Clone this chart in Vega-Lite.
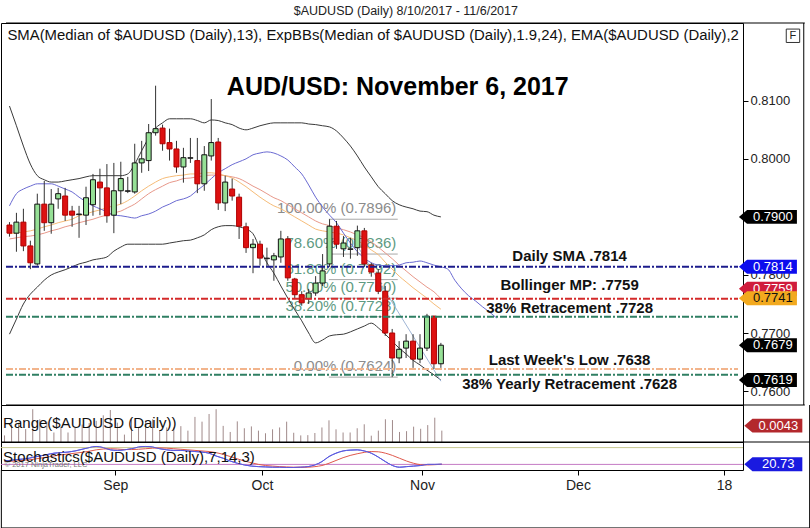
{
"$schema":"https://vega.github.io/schema/vega-lite/v6.json",
"background":"#ffffff",
"padding":{"top":4,"left":0,"right":0,"bottom":0},
"bounds":"flush",
"title":{"text":"$AUDUSD (Daily)  8/10/2017 - 11/6/2017","fontSize":12.5,"fontWeight":"normal","anchor":"middle","frame":"bounds","offset":5,"color":"#222222"},
"config":{"font":"Liberation Sans","view":{"stroke":"#000000","strokeWidth":1},"concat":{"spacing":0}},
"spacing":0,
"datasets":{
"bars":[
{"i":0,"date":"2017-08-10","o":0.7886,"h":0.7891,"l":0.7866,"c":0.7872,"rng":0.0025,"k":32,"d":30},
{"i":1,"date":"2017-08-11","o":0.7872,"h":0.7907,"l":0.7840,"c":0.7891,"rng":0.0067,"k":35,"d":31},
{"i":2,"date":"2017-08-14","o":0.7891,"h":0.7914,"l":0.7841,"c":0.7850,"rng":0.0073,"k":38,"d":33},
{"i":3,"date":"2017-08-15","o":0.7850,"h":0.7859,"l":0.7810,"c":0.7821,"rng":0.0049,"k":40,"d":35},
{"i":4,"date":"2017-08-16","o":0.7819,"h":0.7940,"l":0.7816,"c":0.7922,"rng":0.0124,"k":45,"d":38},
{"i":5,"date":"2017-08-17","o":0.7922,"h":0.7962,"l":0.7876,"c":0.7890,"rng":0.0086,"k":50,"d":42},
{"i":6,"date":"2017-08-18","o":0.7890,"h":0.7948,"l":0.7871,"c":0.7922,"rng":0.0077,"k":55,"d":46},
{"i":7,"date":"2017-08-21","o":0.7931,"h":0.7950,"l":0.7914,"c":0.7940,"rng":0.0036,"k":60,"d":50},
{"i":8,"date":"2017-08-22","o":0.7936,"h":0.7950,"l":0.7893,"c":0.7903,"rng":0.0057,"k":62,"d":54},
{"i":9,"date":"2017-08-23","o":0.7910,"h":0.7919,"l":0.7883,"c":0.7903,"rng":0.0036,"k":64,"d":57},
{"i":10,"date":"2017-08-24","o":0.7905,"h":0.7919,"l":0.7864,"c":0.7904,"rng":0.0055,"k":68,"d":60},
{"i":11,"date":"2017-08-25","o":0.7903,"h":0.7952,"l":0.7886,"c":0.7933,"rng":0.0066,"k":74,"d":63},
{"i":12,"date":"2017-08-28","o":0.7921,"h":0.7974,"l":0.7902,"c":0.7964,"rng":0.0072,"k":80,"d":67},
{"i":13,"date":"2017-08-29","o":0.7960,"h":0.7983,"l":0.7903,"c":0.7950,"rng":0.0080,"k":84,"d":72},
{"i":14,"date":"2017-08-30","o":0.7950,"h":0.7991,"l":0.7890,"c":0.7902,"rng":0.0101,"k":80,"d":75},
{"i":15,"date":"2017-08-31","o":0.7903,"h":0.7993,"l":0.7872,"c":0.7945,"rng":0.0121,"k":72,"d":76},
{"i":16,"date":"2017-09-01","o":0.7945,"h":0.7995,"l":0.7922,"c":0.7966,"rng":0.0073,"k":70,"d":75},
{"i":17,"date":"2017-09-04","o":0.7945,"h":0.7969,"l":0.7941,"c":0.7944,"rng":0.0028,"k":72,"d":73},
{"i":18,"date":"2017-09-05","o":0.7943,"h":0.8026,"l":0.7940,"c":0.7993,"rng":0.0086,"k":76,"d":73},
{"i":19,"date":"2017-09-06","o":0.7993,"h":0.8031,"l":0.7976,"c":0.8000,"rng":0.0055,"k":82,"d":74},
{"i":20,"date":"2017-09-07","o":0.7997,"h":0.8060,"l":0.7979,"c":0.8045,"rng":0.0081,"k":84,"d":76},
{"i":21,"date":"2017-09-08","o":0.8045,"h":0.8126,"l":0.8040,"c":0.8052,"rng":0.0086,"k":82,"d":78},
{"i":22,"date":"2017-09-11","o":0.8053,"h":0.8059,"l":0.8014,"c":0.8026,"rng":0.0045,"k":76,"d":79},
{"i":23,"date":"2017-09-12","o":0.8028,"h":0.8052,"l":0.7997,"c":0.8017,"rng":0.0055,"k":72,"d":78},
{"i":24,"date":"2017-09-13","o":0.8017,"h":0.8031,"l":0.7976,"c":0.7986,"rng":0.0055,"k":70,"d":76},
{"i":25,"date":"2017-09-14","o":0.7986,"h":0.8019,"l":0.7959,"c":0.8002,"rng":0.0060,"k":70,"d":74},
{"i":26,"date":"2017-09-15","o":0.8002,"h":0.8036,"l":0.7993,"c":0.8001,"rng":0.0043,"k":68,"d":72},
{"i":27,"date":"2017-09-18","o":0.7997,"h":0.8036,"l":0.7941,"c":0.7957,"rng":0.0095,"k":66,"d":70},
{"i":28,"date":"2017-09-19","o":0.7957,"h":0.8022,"l":0.7945,"c":0.8007,"rng":0.0077,"k":64,"d":68},
{"i":29,"date":"2017-09-20","o":0.8005,"h":0.8103,"l":0.7997,"c":0.8028,"rng":0.0106,"k":60,"d":66},
{"i":30,"date":"2017-09-21","o":0.8029,"h":0.8036,"l":0.7912,"c":0.7924,"rng":0.0124,"k":50,"d":62},
{"i":31,"date":"2017-09-22","o":0.7924,"h":0.7971,"l":0.7910,"c":0.7960,"rng":0.0061,"k":42,"d":56},
{"i":32,"date":"2017-09-25","o":0.7948,"h":0.7966,"l":0.7928,"c":0.7936,"rng":0.0038,"k":32,"d":48},
{"i":33,"date":"2017-09-26","o":0.7934,"h":0.7940,"l":0.7862,"c":0.7884,"rng":0.0078,"k":24,"d":40},
{"i":34,"date":"2017-09-27","o":0.7883,"h":0.7890,"l":0.7838,"c":0.7847,"rng":0.0052,"k":18,"d":32},
{"i":35,"date":"2017-09-28","o":0.7847,"h":0.7862,"l":0.7803,"c":0.7853,"rng":0.0059,"k":14,"d":26},
{"i":36,"date":"2017-09-29","o":0.7853,"h":0.7859,"l":0.7816,"c":0.7829,"rng":0.0043,"k":12,"d":20},
{"i":37,"date":"2017-10-02","o":0.7829,"h":0.7847,"l":0.7814,"c":0.7828,"rng":0.0033,"k":11,"d":16},
{"i":38,"date":"2017-10-03","o":0.7826,"h":0.7838,"l":0.7790,"c":0.7833,"rng":0.0048,"k":10,"d":14},
{"i":39,"date":"2017-10-04","o":0.7831,"h":0.7876,"l":0.7821,"c":0.7862,"rng":0.0055,"k":10,"d":12},
{"i":40,"date":"2017-10-05","o":0.7862,"h":0.7867,"l":0.7790,"c":0.7795,"rng":0.0077,"k":9,"d":11},
{"i":41,"date":"2017-10-06","o":0.7793,"h":0.7795,"l":0.7760,"c":0.7766,"rng":0.0035,"k":9,"d":10},
{"i":42,"date":"2017-10-09","o":0.7766,"h":0.7772,"l":0.7747,"c":0.7752,"rng":0.0025,"k":10,"d":10},
{"i":43,"date":"2017-10-10","o":0.7759,"h":0.7776,"l":0.7750,"c":0.7769,"rng":0.0026,"k":12,"d":10},
{"i":44,"date":"2017-10-11","o":0.7769,"h":0.7798,"l":0.7764,"c":0.7786,"rng":0.0034,"k":18,"d":12},
{"i":45,"date":"2017-10-12","o":0.7786,"h":0.7836,"l":0.7781,"c":0.7807,"rng":0.0055,"k":30,"d":16},
{"i":46,"date":"2017-10-13","o":0.7819,"h":0.7896,"l":0.7814,"c":0.7884,"rng":0.0082,"k":48,"d":24},
{"i":47,"date":"2017-10-16","o":0.7884,"h":0.7893,"l":0.7845,"c":0.7853,"rng":0.0048,"k":60,"d":34},
{"i":48,"date":"2017-10-17","o":0.7845,"h":0.7867,"l":0.7831,"c":0.7855,"rng":0.0036,"k":68,"d":44},
{"i":49,"date":"2017-10-18","o":0.7845,"h":0.7864,"l":0.7828,"c":0.7844,"rng":0.0036,"k":71,"d":52},
{"i":50,"date":"2017-10-19","o":0.7847,"h":0.7885,"l":0.7833,"c":0.7876,"rng":0.0052,"k":72,"d":58},
{"i":51,"date":"2017-10-20","o":0.7876,"h":0.7881,"l":0.7814,"c":0.7819,"rng":0.0067,"k":68,"d":63},
{"i":52,"date":"2017-10-23","o":0.7817,"h":0.7821,"l":0.7797,"c":0.7805,"rng":0.0024,"k":60,"d":66},
{"i":53,"date":"2017-10-24","o":0.7803,"h":0.7810,"l":0.7767,"c":0.7772,"rng":0.0043,"k":46,"d":65},
{"i":54,"date":"2017-10-25","o":0.7772,"h":0.7781,"l":0.7695,"c":0.7700,"rng":0.0086,"k":30,"d":60},
{"i":55,"date":"2017-10-26","o":0.7700,"h":0.7707,"l":0.7624,"c":0.7657,"rng":0.0083,"k":16,"d":52},
{"i":56,"date":"2017-10-27","o":0.7657,"h":0.7686,"l":0.7648,"c":0.7672,"rng":0.0038,"k":10,"d":42},
{"i":57,"date":"2017-10-30","o":0.7674,"h":0.7698,"l":0.7657,"c":0.7686,"rng":0.0041,"k":12,"d":32},
{"i":58,"date":"2017-10-31","o":0.7686,"h":0.7698,"l":0.7640,"c":0.7655,"rng":0.0058,"k":14,"d":24},
{"i":59,"date":"2017-11-01","o":0.7655,"h":0.7698,"l":0.7648,"c":0.7674,"rng":0.0050,"k":16,"d":19},
{"i":60,"date":"2017-11-02","o":0.7674,"h":0.7733,"l":0.7669,"c":0.7729,"rng":0.0064,"k":20,"d":18},
{"i":61,"date":"2017-11-03","o":0.7729,"h":0.7730,"l":0.7638,"c":0.7647,"rng":0.0092,"k":20,"d":19},
{"i":62,"date":"2017-11-06","o":0.7647,"h":0.7683,"l":0.7640,"c":0.7679,"rng":0.0043,"k":20.73,"d":20.5}
],
"bands":[
{"i":0,"up":0.8091,"mid":0.7919,"lo":0.7698,"ema":0.7871,"sma":0.7862},
{"i":1,"up":0.8057,"mid":0.7940,"lo":0.7724,"ema":0.7872,"sma":0.7864},
{"i":2,"up":0.8022,"mid":0.7948,"lo":0.7750,"ema":0.7874,"sma":0.7866},
{"i":3,"up":0.7991,"mid":0.7953,"lo":0.7767,"ema":0.7876,"sma":0.7867},
{"i":4,"up":0.7971,"mid":0.7957,"lo":0.7779,"ema":0.7879,"sma":0.7869},
{"i":5,"up":0.7964,"mid":0.7957,"lo":0.7791,"ema":0.7883,"sma":0.7872},
{"i":6,"up":0.7960,"mid":0.7957,"lo":0.7800,"ema":0.7886,"sma":0.7876},
{"i":7,"up":0.7960,"mid":0.7953,"lo":0.7805,"ema":0.7890,"sma":0.7879},
{"i":8,"up":0.7962,"mid":0.7948,"lo":0.7809,"ema":0.7893,"sma":0.7883},
{"i":9,"up":0.7964,"mid":0.7943,"lo":0.7814,"ema":0.7896,"sma":0.7886},
{"i":10,"up":0.7966,"mid":0.7934,"lo":0.7819,"ema":0.7902,"sma":0.7890},
{"i":11,"up":0.7969,"mid":0.7926,"lo":0.7822,"ema":0.7905,"sma":0.7893},
{"i":12,"up":0.7971,"mid":0.7919,"lo":0.7826,"ema":0.7909,"sma":0.7896},
{"i":13,"up":0.7971,"mid":0.7914,"lo":0.7828,"ema":0.7912,"sma":0.7900},
{"i":14,"up":0.7971,"mid":0.7909,"lo":0.7831,"ema":0.7916,"sma":0.7903},
{"i":15,"up":0.7971,"mid":0.7903,"lo":0.7841,"ema":0.7919,"sma":0.7907},
{"i":16,"up":0.7971,"mid":0.7902,"lo":0.7848,"ema":0.7922,"sma":0.7910},
{"i":17,"up":0.7974,"mid":0.7900,"lo":0.7853,"ema":0.7928,"sma":0.7916},
{"i":18,"up":0.7991,"mid":0.7898,"lo":0.7853,"ema":0.7936,"sma":0.7922},
{"i":19,"up":0.8014,"mid":0.7902,"lo":0.7853,"ema":0.7945,"sma":0.7931},
{"i":20,"up":0.8036,"mid":0.7905,"lo":0.7853,"ema":0.7953,"sma":0.7940},
{"i":21,"up":0.8053,"mid":0.7910,"lo":0.7853,"ema":0.7960,"sma":0.7947},
{"i":22,"up":0.8062,"mid":0.7917,"lo":0.7853,"ema":0.7966,"sma":0.7953},
{"i":23,"up":0.8069,"mid":0.7922,"lo":0.7855,"ema":0.7969,"sma":0.7959},
{"i":24,"up":0.8069,"mid":0.7928,"lo":0.7857,"ema":0.7971,"sma":0.7962},
{"i":25,"up":0.8069,"mid":0.7931,"lo":0.7859,"ema":0.7972,"sma":0.7966},
{"i":26,"up":0.8069,"mid":0.7936,"lo":0.7860,"ema":0.7974,"sma":0.7967},
{"i":27,"up":0.8066,"mid":0.7946,"lo":0.7864,"ema":0.7974,"sma":0.7969},
{"i":28,"up":0.8062,"mid":0.7955,"lo":0.7869,"ema":0.7976,"sma":0.7971},
{"i":29,"up":0.8067,"mid":0.7966,"lo":0.7878,"ema":0.7976,"sma":0.7972},
{"i":30,"up":0.8066,"mid":0.7976,"lo":0.7883,"ema":0.7974,"sma":0.7972},
{"i":31,"up":0.8062,"mid":0.7983,"lo":0.7885,"ema":0.7971,"sma":0.7971},
{"i":32,"up":0.8059,"mid":0.7990,"lo":0.7885,"ema":0.7967,"sma":0.7969},
{"i":33,"up":0.8053,"mid":0.7995,"lo":0.7883,"ema":0.7960,"sma":0.7966},
{"i":34,"up":0.8050,"mid":0.8000,"lo":0.7879,"ema":0.7952,"sma":0.7960},
{"i":35,"up":0.8053,"mid":0.8007,"lo":0.7871,"ema":0.7943,"sma":0.7953},
{"i":36,"up":0.8057,"mid":0.8010,"lo":0.7845,"ema":0.7934,"sma":0.7947},
{"i":37,"up":0.8060,"mid":0.8012,"lo":0.7821,"ema":0.7926,"sma":0.7940},
{"i":38,"up":0.8062,"mid":0.8010,"lo":0.7803,"ema":0.7919,"sma":0.7933},
{"i":39,"up":0.8062,"mid":0.8005,"lo":0.7781,"ema":0.7914,"sma":0.7928},
{"i":40,"up":0.8062,"mid":0.7998,"lo":0.7760,"ema":0.7907,"sma":0.7921},
{"i":41,"up":0.8062,"mid":0.7986,"lo":0.7740,"ema":0.7900,"sma":0.7914},
{"i":42,"up":0.8062,"mid":0.7974,"lo":0.7721,"ema":0.7893,"sma":0.7907},
{"i":43,"up":0.8060,"mid":0.7955,"lo":0.7700,"ema":0.7886,"sma":0.7900},
{"i":44,"up":0.8059,"mid":0.7934,"lo":0.7683,"ema":0.7879,"sma":0.7893},
{"i":45,"up":0.8057,"mid":0.7917,"lo":0.7688,"ema":0.7876,"sma":0.7888},
{"i":46,"up":0.8055,"mid":0.7903,"lo":0.7695,"ema":0.7874,"sma":0.7885},
{"i":47,"up":0.8048,"mid":0.7890,"lo":0.7697,"ema":0.7872,"sma":0.7881},
{"i":48,"up":0.8036,"mid":0.7872,"lo":0.7698,"ema":0.7869,"sma":0.7878},
{"i":49,"up":0.8022,"mid":0.7855,"lo":0.7702,"ema":0.7864,"sma":0.7874},
{"i":50,"up":0.8005,"mid":0.7840,"lo":0.7707,"ema":0.7859,"sma":0.7869},
{"i":51,"up":0.7986,"mid":0.7829,"lo":0.7712,"ema":0.7852,"sma":0.7864},
{"i":52,"up":0.7969,"mid":0.7821,"lo":0.7717,"ema":0.7843,"sma":0.7857},
{"i":53,"up":0.7952,"mid":0.7817,"lo":0.7709,"ema":0.7835,"sma":0.7848},
{"i":54,"up":0.7940,"mid":0.7816,"lo":0.7698,"ema":0.7822,"sma":0.7838},
{"i":55,"up":0.7928,"mid":0.7816,"lo":0.7686,"ema":0.7810,"sma":0.7828},
{"i":56,"up":0.7921,"mid":0.7817,"lo":0.7674,"ema":0.7798,"sma":0.7817},
{"i":57,"up":0.7917,"mid":0.7821,"lo":0.7664,"ema":0.7788,"sma":0.7807},
{"i":58,"up":0.7914,"mid":0.7822,"lo":0.7653,"ema":0.7778,"sma":0.7797},
{"i":59,"up":0.7910,"mid":0.7824,"lo":0.7645,"ema":0.7769,"sma":0.7788},
{"i":60,"up":0.7909,"mid":0.7821,"lo":0.7636,"ema":0.7760,"sma":0.7779},
{"i":61,"up":0.7903,"mid":0.7817,"lo":0.7628,"ema":0.7750,"sma":0.7771},
{"i":62,"up":0.7900,"mid":0.7814,"lo":0.7619,"ema":0.7741,"sma":0.7759},
{"i":63,"mid":0.7810},
{"i":64,"mid":0.7791},
{"i":65,"mid":0.7776},
{"i":66,"mid":0.7764},
{"i":67,"mid":0.7755},
{"i":68,"mid":0.7745},
{"i":69,"mid":0.7736},
{"i":70,"mid":0.7726}
],
"trend":[{"i":50,"v":0.7850},{"i":62,"v":0.7617}],
"levels":[
{"label":"Daily SMA .7814","v":0.7814,"lv":0.7833,"kind":"sma"},
{"label":"Bollinger MP: .7759","v":0.7759,"lv":0.7783,"kind":"bmp"},
{"label":"38% Retracement .7728","v":0.7728,"lv":0.7743,"kind":"ret"},
{"label":"Last Week's Low .7638","v":0.7638,"lv":0.7653,"kind":"low"},
{"label":"38% Yearly Retracement .7628","v":0.7628,"lv":0.7612,"kind":"yret"}
],
"fib":[
{"pct":100,"v":0.7896,"label":"100.00% (0.7896)"},
{"pct":78.6,"v":0.7836,"label":"78.60% (0.7836)"},
{"pct":61.8,"v":0.7792,"label":"61.80% (0.7792)"},
{"pct":50,"v":0.7760,"label":"50.00% (0.7760)"},
{"pct":38.2,"v":0.7728,"label":"38.20% (0.7728)"},
{"pct":0,"v":0.7624,"label":"0.00% (0.7624)"}
],
"pbadges":[
{"label":"0.7900","v":0.7900},
{"label":"0.7814","v":0.7814},
{"label":"0.7759","v":0.7759},
{"label":"0.7741","v":0.7741},
{"label":"0.7679","v":0.7679},
{"label":"0.7619","v":0.7619}
]
},
"vconcat":[
{
"width":742,"height":382,
"layer":[
{"data":{"name":"fib"},"mark":{"type":"rule","color":"#a8a8a8","strokeWidth":1},
 "encoding":{"x":{"datum":45.9,"type":"quantitative","scale":{"domain":[-0.5,104.7],"nice":false,"zero":false},"axis":null},"x2":{"datum":55.8},
 "y":{"field":"v","type":"quantitative","scale":{"domain":[0.7576,0.8234],"nice":false,"zero":false},
  "axis":{"orient":"right","values":[0.76,0.77,0.78,0.79,0.8,0.81],"format":".4f","labelFontSize":13,"labelColor":"#222222","tickColor":"#000000","tickSize":5,"domain":false,"grid":false,"title":null,"labelPadding":2,"zindex":0}}}},
{"data":{"name":"fib"},"mark":{"type":"text","align":"right","baseline":"middle","dy":-11,"fontSize":15},
 "encoding":{"x":{"datum":55.6,"type":"quantitative","scale":{"domain":[-0.5,104.7],"nice":false,"zero":false},"axis":null},
 "y":{"field":"v","type":"quantitative","scale":{"domain":[0.7576,0.8234],"nice":false,"zero":false}},
 "text":{"field":"label"},
 "color":{"condition":{"test":"datum.pct==100||datum.pct==0","value":"#8c8c8c"},"value":"#5e9a82"}}},
{"data":{"name":"bands"},"mark":{"type":"line","color":"#3a3a3a","strokeWidth":1,"interpolate":"monotone"},
 "encoding":{"x":{"field":"i","type":"quantitative","scale":{"domain":[-0.5,104.7],"nice":false,"zero":false},"axis":null},
 "y":{"field":"up","type":"quantitative","scale":{"domain":[0.7576,0.8234],"nice":false,"zero":false}}}},
{"data":{"name":"bands"},"mark":{"type":"line","color":"#3a3a3a","strokeWidth":1,"interpolate":"monotone"},
 "encoding":{"x":{"field":"i","type":"quantitative","scale":{"domain":[-0.5,104.7],"nice":false,"zero":false},"axis":null},
 "y":{"field":"lo","type":"quantitative","scale":{"domain":[0.7576,0.8234],"nice":false,"zero":false}}}},
{"data":{"name":"bands"},"mark":{"type":"line","color":"#e8988a","strokeWidth":1,"interpolate":"monotone"},
 "encoding":{"x":{"field":"i","type":"quantitative","scale":{"domain":[-0.5,104.7],"nice":false,"zero":false},"axis":null},
 "y":{"field":"sma","type":"quantitative","scale":{"domain":[0.7576,0.8234],"nice":false,"zero":false}}}},
{"data":{"name":"bands"},"mark":{"type":"line","color":"#f6bc78","strokeWidth":1,"interpolate":"monotone"},
 "encoding":{"x":{"field":"i","type":"quantitative","scale":{"domain":[-0.5,104.7],"nice":false,"zero":false},"axis":null},
 "y":{"field":"ema","type":"quantitative","scale":{"domain":[0.7576,0.8234],"nice":false,"zero":false}}}},
{"data":{"name":"bands"},"mark":{"type":"line","color":"#6a6ad2","strokeWidth":1,"interpolate":"monotone"},
 "encoding":{"x":{"field":"i","type":"quantitative","scale":{"domain":[-0.5,104.7],"nice":false,"zero":false},"axis":null},
 "y":{"field":"mid","type":"quantitative","scale":{"domain":[0.7576,0.8234],"nice":false,"zero":false}}}},
{"data":{"name":"trend"},"mark":{"type":"line","color":"#9fb5d5","strokeWidth":1},
 "encoding":{"x":{"field":"i","type":"quantitative","scale":{"domain":[-0.5,104.7],"nice":false,"zero":false},"axis":null},
 "y":{"field":"v","type":"quantitative","scale":{"domain":[0.7576,0.8234],"nice":false,"zero":false}}}},
{"data":{"name":"bars"},"mark":{"type":"rule","color":"#333333","strokeWidth":1},
 "encoding":{"x":{"field":"i","type":"quantitative","scale":{"domain":[-0.5,104.7],"nice":false,"zero":false},"axis":null},
 "y":{"field":"l","type":"quantitative","scale":{"domain":[0.7576,0.8234],"nice":false,"zero":false}},"y2":{"field":"h"}}},
{"data":{"name":"bars"},"mark":{"type":"bar","size":5,"strokeWidth":1,"orient":"vertical"},
 "encoding":{"x":{"field":"i","type":"quantitative","scale":{"domain":[-0.5,104.7],"nice":false,"zero":false},"axis":null},
 "y":{"field":"o","type":"quantitative","scale":{"domain":[0.7576,0.8234],"nice":false,"zero":false}},"y2":{"field":"c"},
 "color":{"condition":[{"test":"abs(datum.c-datum.o)<0.00015","value":"#222222"},{"test":"datum.c<datum.o","value":"#dd1111"}],"value":"#96e096"},
 "stroke":{"condition":[{"test":"abs(datum.c-datum.o)<0.00015","value":"#222222"},{"test":"datum.c<datum.o","value":"#b00000"}],"value":"#111111"}}},
{"data":{"name":"levels"},"mark":{"type":"rule","strokeWidth":2,"strokeDash":[7,2,2,2]},
 "encoding":{"x":{"datum":-0.5,"type":"quantitative","scale":{"domain":[-0.5,104.7],"nice":false,"zero":false},"axis":null},"x2":{"datum":104.7},
 "y":{"field":"v","type":"quantitative","scale":{"domain":[0.7576,0.8234],"nice":false,"zero":false}},
 "color":{"field":"kind","type":"nominal","scale":{"domain":["sma","bmp","ret","low","yret"],"range":["#1c1c8c","#d42a2a","#2f7f63","#f2b48c","#2f7f63"]},"legend":null}}},
{"data":{"name":"levels"},"mark":{"type":"text","fontSize":15,"fontWeight":"bold","align":"center","baseline":"middle","color":"#111111"},
 "encoding":{"x":{"datum":80.5,"type":"quantitative","scale":{"domain":[-0.5,104.7],"nice":false,"zero":false},"axis":null},
 "y":{"field":"lv","type":"quantitative","scale":{"domain":[0.7576,0.8234],"nice":false,"zero":false}},"text":{"field":"label"}}},
{"data":{"values":[{}]},"mark":{"type":"text","text":"SMA(Median of $AUDUSD (Daily),13), ExpBBs(Median of $AUDUSD (Daily),1.9,24), EMA($AUDUSD (Daily),2","align":"left","baseline":"middle","fontSize":14.9,"color":"#111111","clip":true},
 "encoding":{"x":{"datum":-0.3,"type":"quantitative","scale":{"domain":[-0.5,104.7],"nice":false,"zero":false},"axis":null},
 "y":{"datum":0.8212,"type":"quantitative","scale":{"domain":[0.7576,0.8234],"nice":false,"zero":false}}}},
{"data":{"values":[{}]},"mark":{"type":"text","text":"AUD/USD: November 6, 2017","align":"center","baseline":"middle","fontSize":25,"fontWeight":"bold","color":"#000000"},
 "encoding":{"x":{"datum":55.8,"type":"quantitative","scale":{"domain":[-0.5,104.7],"nice":false,"zero":false},"axis":null},
 "y":{"datum":0.8124,"type":"quantitative","scale":{"domain":[0.7576,0.8234],"nice":false,"zero":false}}}},
{"data":{"values":[{"v":0.8234},{"v":0.7576}]},"mark":{"type":"rule","color":"#000000","strokeWidth":1},
 "encoding":{"x":{"datum":-0.5,"type":"quantitative","scale":{"domain":[-0.5,104.7],"nice":false,"zero":false},"axis":null},"x2":{"datum":114.3},
 "y":{"field":"v","type":"quantitative","scale":{"domain":[0.7576,0.8234],"nice":false,"zero":false}}}},
{"data":{"values":[{}]},"mark":{"type":"rule","color":"#000000","strokeWidth":1},
 "encoding":{"x":{"datum":114.15,"type":"quantitative","scale":{"domain":[-0.5,104.7],"nice":false,"zero":false},"axis":null},
 "y":{"datum":0.7576,"type":"quantitative","scale":{"domain":[0.7576,0.8234],"nice":false,"zero":false}},"y2":{"datum":0.8234}}},
{"data":{"values":[{}]},"mark":{"type":"point","shape":"square","size":180,"filled":false,"color":"#333333","strokeWidth":1,"opacity":1},
 "encoding":{"x":{"datum":112.6,"type":"quantitative","scale":{"domain":[-0.5,104.7],"nice":false,"zero":false},"axis":null},
 "y":{"datum":0.8212,"type":"quantitative","scale":{"domain":[0.7576,0.8234],"nice":false,"zero":false}}}},
{"data":{"values":[{}]},"mark":{"type":"text","text":"F","align":"center","baseline":"middle","fontSize":11,"color":"#222222"},
 "encoding":{"x":{"datum":112.6,"type":"quantitative","scale":{"domain":[-0.5,104.7],"nice":false,"zero":false},"axis":null},
 "y":{"datum":0.8212,"type":"quantitative","scale":{"domain":[0.7576,0.8234],"nice":false,"zero":false}}}},
{"data":{"name":"pbadges"},"transform":[{"filter":"datum.label!='0.7759' && datum.label!='0.7741'"}],
 "mark":{"type":"point","shape":"M-1,0L-0.72,-0.24L1,-0.24L1,0.24L-0.72,0.24Z","size":3364,"filled":true,"opacity":1,"strokeWidth":0},
 "encoding":{"x":{"datum":109,"type":"quantitative","scale":{"domain":[-0.5,104.7],"nice":false,"zero":false},"axis":null},
 "y":{"field":"v","type":"quantitative","scale":{"domain":[0.7576,0.8234],"nice":false,"zero":false}},
 "color":{"condition":{"test":"datum.label=='0.7814'","value":"#0c0cee"},"value":"#000000"}}},
{"data":{"name":"pbadges"},"transform":[{"filter":"datum.label!='0.7759' && datum.label!='0.7741'"}],
 "mark":{"type":"text","fontSize":13,"color":"#ffffff","align":"center","baseline":"middle"},
 "encoding":{"x":{"datum":109.7,"type":"quantitative","scale":{"domain":[-0.5,104.7],"nice":false,"zero":false},"axis":null},
 "y":{"field":"v","type":"quantitative","scale":{"domain":[0.7576,0.8234],"nice":false,"zero":false}},"text":{"field":"label"}}},
{"data":{"name":"pbadges"},"transform":[{"filter":"datum.label=='0.7759'"}],
 "mark":{"type":"point","shape":"M-1,-0.345L-0.72,-0.585L1,-0.585L1,-0.105L-0.72,-0.105Z","size":3364,"filled":true,"opacity":1,"strokeWidth":0,"color":"#d01c3c"},
 "encoding":{"x":{"datum":109,"type":"quantitative","scale":{"domain":[-0.5,104.7],"nice":false,"zero":false},"axis":null},
 "y":{"field":"v","type":"quantitative","scale":{"domain":[0.7576,0.8234],"nice":false,"zero":false}}}},
{"data":{"name":"pbadges"},"transform":[{"filter":"datum.label=='0.7759'"}],
 "mark":{"type":"text","fontSize":13,"color":"#ffffff","align":"center","baseline":"middle","dy":-10},
 "encoding":{"x":{"datum":109.7,"type":"quantitative","scale":{"domain":[-0.5,104.7],"nice":false,"zero":false},"axis":null},
 "y":{"field":"v","type":"quantitative","scale":{"domain":[0.7576,0.8234],"nice":false,"zero":false}},"text":{"field":"label"}}},
{"data":{"name":"pbadges"},"transform":[{"filter":"datum.label=='0.7741'"}],
 "mark":{"type":"point","shape":"M-1,-0.379L-0.72,-0.619L1,-0.619L1,-0.139L-0.72,-0.139Z","size":3364,"filled":true,"opacity":1,"strokeWidth":0,"color":"#f2a91e"},
 "encoding":{"x":{"datum":109,"type":"quantitative","scale":{"domain":[-0.5,104.7],"nice":false,"zero":false},"axis":null},
 "y":{"field":"v","type":"quantitative","scale":{"domain":[0.7576,0.8234],"nice":false,"zero":false}}}},
{"data":{"name":"pbadges"},"transform":[{"filter":"datum.label=='0.7741'"}],
 "mark":{"type":"text","fontSize":13,"color":"#111111","align":"center","baseline":"middle","dy":-11},
 "encoding":{"x":{"datum":109.7,"type":"quantitative","scale":{"domain":[-0.5,104.7],"nice":false,"zero":false},"axis":null},
 "y":{"field":"v","type":"quantitative","scale":{"domain":[0.7576,0.8234],"nice":false,"zero":false}},"text":{"field":"label"}}}
]
},
{
"width":742,"height":37,
"layer":[
{"data":{"name":"bars"},"mark":{"type":"rule","color":"#a08a8a","strokeWidth":1},
 "encoding":{"x":{"field":"i","type":"quantitative","scale":{"domain":[-0.5,104.7],"nice":false,"zero":false},"axis":null},
 "y":{"field":"rng","type":"quantitative","scale":{"domain":[0,0.014],"nice":false,"zero":false},"axis":null},"y2":{"datum":0}}},
{"data":{"values":[{}]},"mark":{"type":"text","text":"Range($AUDUSD (Daily))","align":"left","baseline":"middle","fontSize":15,"color":"#111111"},
 "encoding":{"x":{"datum":-0.2,"type":"quantitative","scale":{"domain":[-0.5,104.7],"nice":false,"zero":false},"axis":null},
 "y":{"datum":0.0072,"type":"quantitative","scale":{"domain":[0,0.014],"nice":false,"zero":false},"axis":null}}},
{"data":{"values":[{}]},"mark":{"type":"rule","color":"#000000","strokeWidth":1},
 "encoding":{"x":{"datum":-0.5,"type":"quantitative","scale":{"domain":[-0.5,104.7],"nice":false,"zero":false},"axis":null},"x2":{"datum":114.3},
 "y":{"datum":0,"type":"quantitative","scale":{"domain":[0,0.014],"nice":false,"zero":false},"axis":null}}},
{"data":{"values":[{}]},"mark":{"type":"rule","color":"#000000","strokeWidth":1},
 "encoding":{"x":{"datum":114.15,"type":"quantitative","scale":{"domain":[-0.5,104.7],"nice":false,"zero":false},"axis":null},
 "y":{"datum":0,"type":"quantitative","scale":{"domain":[0,0.014],"nice":false,"zero":false},"axis":null},"y2":{"datum":0.014}}},
{"data":{"values":[{"label":"0.0043","v":0.0043}]},
 "mark":{"type":"point","shape":"M-1,-0.172L-0.72,-0.412L1,-0.412L1,0.068L-0.72,0.068Z","size":3364,"filled":true,"opacity":1,"strokeWidth":0,"color":"#b3282d"},
 "encoding":{"x":{"datum":109,"type":"quantitative","scale":{"domain":[-0.5,104.7],"nice":false,"zero":false},"axis":null},
 "y":{"field":"v","type":"quantitative","scale":{"domain":[0,0.014],"nice":false,"zero":false},"axis":null}}},
{"data":{"values":[{"label":"0.0043","v":0.0043}]},
 "mark":{"type":"text","fontSize":13,"color":"#ffffff","align":"center","baseline":"middle","dy":-5},
 "encoding":{"x":{"datum":109.7,"type":"quantitative","scale":{"domain":[-0.5,104.7],"nice":false,"zero":false},"axis":null},
 "y":{"field":"v","type":"quantitative","scale":{"domain":[0,0.014],"nice":false,"zero":false},"axis":null},"text":{"field":"label"}}}
]
},
{
"width":742,"height":28,
"layer":[
{"data":{"name":"bars"},"mark":{"type":"line","color":"#5a5ae0","strokeWidth":1,"interpolate":"monotone"},
 "encoding":{"x":{"field":"i","type":"quantitative","scale":{"domain":[-0.5,104.7],"nice":false,"zero":false},
  "axis":{"orient":"bottom","values":[15.7,36.5,59.2,81.3,102],"labelExpr":"datum.value<20?'Sep':datum.value<40?'Oct':datum.value<70?'Nov':datum.value<90?'Dec':'18'","labelFontSize":14,"labelColor":"#222222","tickSize":5,"tickColor":"#000000","domain":false,"grid":false,"title":null,"labelPadding":3}},
 "y":{"field":"k","type":"quantitative","scale":{"domain":[0,100],"nice":false,"zero":false},"axis":null}}},
{"data":{"values":[{"v":80,"kind":"hi"},{"v":20,"kind":"lo"}]},"mark":{"type":"rule","strokeWidth":1},
 "encoding":{"x":{"datum":-0.5,"type":"quantitative","scale":{"domain":[-0.5,104.7],"nice":false,"zero":false}},"x2":{"datum":104.7},
 "y":{"field":"v","type":"quantitative","scale":{"domain":[0,100],"nice":false,"zero":false},"axis":null},
 "color":{"condition":{"test":"datum.kind=='hi'","value":"#c8c890"},"value":"#c47ac4"}}},
{"data":{"name":"bars"},"mark":{"type":"line","color":"#e0584c","strokeWidth":1,"interpolate":"monotone"},
 "encoding":{"x":{"field":"i","type":"quantitative","scale":{"domain":[-0.5,104.7],"nice":false,"zero":false}},
 "y":{"field":"d","type":"quantitative","scale":{"domain":[0,100],"nice":false,"zero":false},"axis":null}}},
{"data":{"name":"bars"},"mark":{"type":"line","color":"#5a5ae0","strokeWidth":1,"interpolate":"monotone"},
 "encoding":{"x":{"field":"i","type":"quantitative","scale":{"domain":[-0.5,104.7],"nice":false,"zero":false}},
 "y":{"field":"k","type":"quantitative","scale":{"domain":[0,100],"nice":false,"zero":false},"axis":null}}},
{"data":{"values":[{"x1":-0.5,"x2":114.3,"y1":-207,"y2":-207},{"x1":-0.45,"x2":-0.45,"y1":-207,"y2":0},{"x1":114.15,"x2":114.15,"y1":-207,"y2":100}]},
 "mark":{"type":"rule","color":"#000000","strokeWidth":1},
 "encoding":{"x":{"field":"x1","type":"quantitative","scale":{"domain":[-0.5,104.7],"nice":false,"zero":false}},"x2":{"field":"x2"},
 "y":{"field":"y1","type":"quantitative","scale":{"domain":[0,100],"nice":false,"zero":false},"axis":null},"y2":{"field":"y2"}}},
{"data":{"values":[{}]},"mark":{"type":"text","text":"© 2017 NinjaTrader, LLC","align":"left","baseline":"middle","fontSize":7.5,"color":"#777777"},
 "encoding":{"x":{"datum":0,"type":"quantitative","scale":{"domain":[-0.5,104.7],"nice":false,"zero":false}},
 "y":{"datum":18,"type":"quantitative","scale":{"domain":[0,100],"nice":false,"zero":false},"axis":null}}},
{"data":{"values":[{}]},"mark":{"type":"text","text":"Stochastics($AUDUSD (Daily),7,14,3)","align":"left","baseline":"middle","fontSize":15,"color":"#111111"},
 "encoding":{"x":{"datum":-0.2,"type":"quantitative","scale":{"domain":[-0.5,104.7],"nice":false,"zero":false}},
 "y":{"datum":46,"type":"quantitative","scale":{"domain":[0,100],"nice":false,"zero":false},"axis":null}}},
{"data":{"values":[{"label":"20.73","v":20.73}]},
 "mark":{"type":"point","shape":"M-1,0L-0.72,-0.24L1,-0.24L1,0.24L-0.72,0.24Z","size":3364,"filled":true,"opacity":1,"strokeWidth":0,"color":"#1a1ae0"},
 "encoding":{"x":{"datum":109,"type":"quantitative","scale":{"domain":[-0.5,104.7],"nice":false,"zero":false}},
 "y":{"field":"v","type":"quantitative","scale":{"domain":[0,100],"nice":false,"zero":false},"axis":null}}},
{"data":{"values":[{"label":"20.73","v":20.73}]},
 "mark":{"type":"text","fontSize":13,"color":"#ffffff","align":"center","baseline":"middle"},
 "encoding":{"x":{"datum":109.7,"type":"quantitative","scale":{"domain":[-0.5,104.7],"nice":false,"zero":false}},
 "y":{"field":"v","type":"quantitative","scale":{"domain":[0,100],"nice":false,"zero":false},"axis":null},"text":{"field":"label"}}}
]
}
]
}
